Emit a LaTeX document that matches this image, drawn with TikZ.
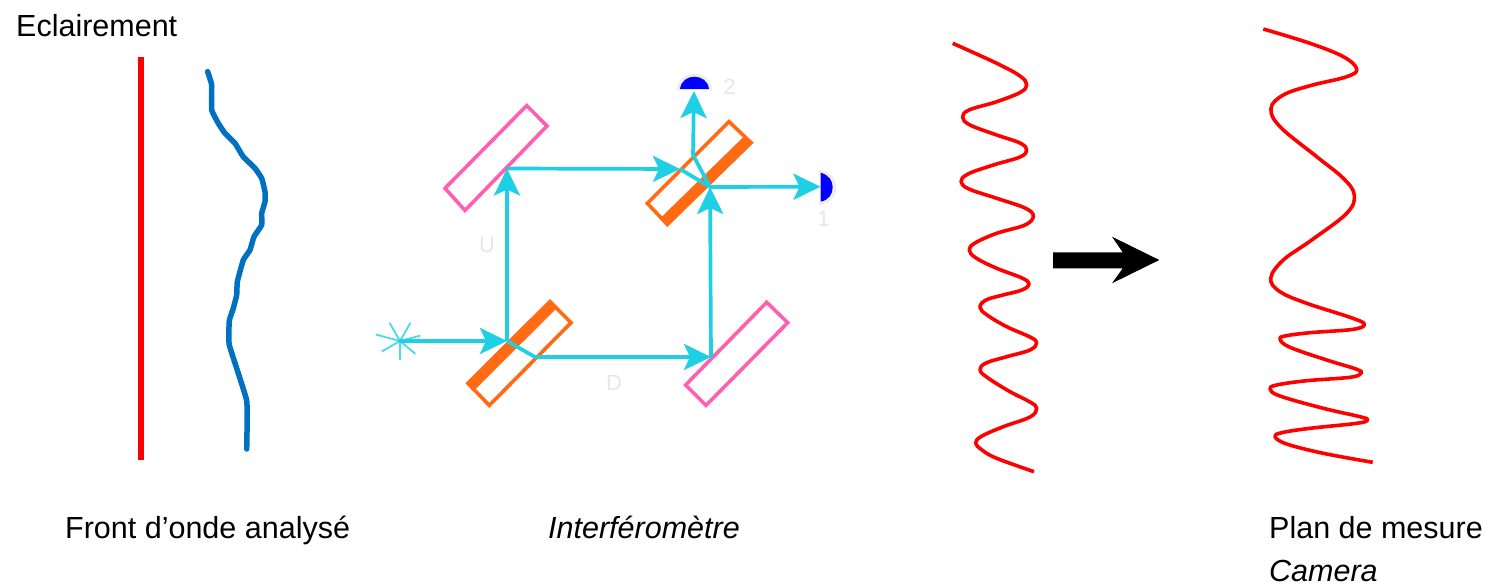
\documentclass[tikz,border=0pt]{standalone}
\usepackage{fontspec}
\setmainfont{Liberation Sans}
\usetikzlibrary{arrows.meta,calc}
\definecolor{beam}{HTML}{1FCFE4}
\definecolor{pinkm}{HTML}{FF5FB0}
\definecolor{orangem}{HTML}{FF6A13}
\definecolor{wavefront}{HTML}{0070C0}
\definecolor{palelab}{HTML}{E6E6E6}
\definecolor{halo}{HTML}{ECECF0}
\tikzset{
  label30/.style={font=\fontsize{30.5}{36}\selectfont, anchor=base west, inner sep=0pt, text=black},
  palelabel/.style={font=\fontsize{22}{26}\selectfont, text=palelab, inner sep=0pt},
  beamline/.style={draw=beam, line width=3.7pt, line join=round},
  beamarrow/.style={beamline, -{Stealth[length=27pt,width=26pt,inset=6pt]}},
  mirrorbox/.style={draw=pinkm, line width=3.6pt, line join=miter},
  splitbox/.style={draw=orangem, line width=3.6pt, line join=miter},
  splitcoat/.style={fill=orangem, draw=none},
  wave/.style={draw=red, line width=3.6pt, line join=round},
  detector/.style={fill=blue, draw=none},
  detectorhalo/.style={draw=halo, line width=2.5pt, fill=none},
  ray/.style={draw=beam, line width=1.8pt, opacity=0.8}
}
\begin{document}
\begin{tikzpicture}[x=1pt,y=-1pt]
\useasboundingbox (0,0) rectangle (1488,587);

% texts
\node[label30] (eclairement) at (16,36) {Eclairement};
\node[label30] (front) at (65,538) {Front d’onde analysé};
\node[label30,font=\fontsize{30.5}{36}\selectfont\itshape] (interf) at (548,538) {Interféromètre};
\node[label30] (plan) at (1269,538) {Plan de mesure};
\node[label30,font=\fontsize{30.5}{36}\selectfont\itshape] (camera) at (1269,581) {Camera};

% plane wave and deformed front
\draw[red, line width=6pt] (141,57) -- (141,460);
\draw[wavefront, line width=5.5pt, line cap=round, line join=round]
  plot[smooth, tension=0.2] coordinates {(207.7,71.7) (211.7,85) (211.7,110) (218.3,123.3) (225,133.3) (235,143.3)
  (243.3,156.7) (255,168.3) (261.7,178.3) (265,191.7) (265,201.7) (261.7,213.3) (261.7,225) (254,236.7)
  (250,250) (243.3,260) (237.3,281.7) (236.7,295) (233.3,308.3) (229.3,320.7) (229.3,345) (246.7,400.7) (246.7,449)};

% mirrors
\coordinate (mtlA) at (526.7,105.6); \coordinate (mtlB) at (547,126);
\coordinate (mtlC) at (465,210.4);   \coordinate (mtlD) at (445,188.3);
\draw[mirrorbox] (mtlA) -- (mtlB) -- (mtlC) -- (mtlD) -- cycle;
\coordinate (mbrA) at (766.7,302.3); \coordinate (mbrB) at (787.7,322.7);
\coordinate (mbrC) at (706,405.4);   \coordinate (mbrD) at (685.6,385);
\draw[mirrorbox] (mbrA) -- (mbrB) -- (mbrC) -- (mbrD) -- cycle;

% beam splitters
\coordinate (strA) at (729,121.6);   \coordinate (strB) at (751,142.7);
\coordinate (strC) at (667.3,224.4); \coordinate (strD) at (647.3,203.3);
\draw[splitbox] (strA) -- (strB) -- (strC) -- (strD) -- cycle;
\fill[splitcoat] (753.3,142.7) -- (667.3,226.7) -- ($(667.3,226.7)!11pt!(645,203.3)$) -- ($(753.3,142.7)!11pt!(729,119.3)$) -- cycle;
\coordinate (sblA) at (550,301.6);   \coordinate (sblB) at (571,322.7);
\coordinate (sblC) at (489.3,405.4); \coordinate (sblD) at (468,383.3);
\draw[splitbox] (sblA) -- (sblB) -- (sblC) -- (sblD) -- cycle;
\fill[splitcoat] (550,299.3) -- (465.7,383.3) -- ($(465.7,383.3)!11pt!(489.3,407.7)$) -- ($(550,299.3)!11pt!(573.3,322.7)$) -- cycle;

% beams
\coordinate (src) at (400,341);
\coordinate (bsIn) at (507,341);
\coordinate (bsOut) at (535,357);
\coordinate (mTL) at (507,168.5);
\coordinate (bs2In) at (680,169);
\coordinate (bs2Mid) at (710,187);
\coordinate (mBR) at (711,357);
\coordinate (bs2Up) at (693,155);
\coordinate (det2pt) at (694,91);
\coordinate (det1pt) at (820.5,186.7);

\draw[beamarrow] (src) -- (bsIn);
\draw[beamarrow] (bsIn) -- (mTL);
\draw[beamarrow] (mTL) -- (bs2In);
\draw[beamline] (bsIn) -- (bsOut);
\draw[beamarrow] (bsOut) -- (mBR);
\draw[beamarrow] (mBR) -- (bs2Mid);
\draw[beamline] (bs2In) -- (bs2Mid);
\draw[beamarrow] (bs2Mid) -- (bs2Up) -- (det2pt);
\draw[beamarrow] (bs2Mid) -- (det1pt);

% light source
\foreach \ang/\len in {90/19, 150/21, 195/25, 240/21, 300/21, 345/21, 40/20}
  \draw[ray] (src) -- ++(\ang:\len);

% detectors
\draw[detectorhalo] (678,91) .. controls (679,79) and (687,75) .. (694.3,75) .. controls (702,75) and (710,79) .. (711,91);
\fill[detector] (680,89) .. controls (681,80.5) and (688,76.7) .. (694.3,76.7) .. controls (701,76.7) and (708,80.5) .. (709,89) -- cycle;
\draw[detectorhalo] (819,171) .. controls (830,173) and (835,180) .. (835,187) .. controls (835,195) and (830,202) .. (819,204);
\fill[detector] (820.7,172.7) .. controls (829,175) and (832.7,181) .. (832.7,187) .. controls (832.7,194) and (829,200) .. (820.7,201.7) -- cycle;

% faint labels
\node[palelabel] (lab2) at (729.5,87) {2};
\node[palelabel] (lab1) at (823.5,219) {1};
\node[palelabel] (labU) at (487,245) {U};
\node[palelabel] (labD) at (614,383) {D};

% waves
\draw[wave] plot[smooth, tension=0.62] coordinates {(952.7,43.3) (996.7,63.3) (1020,76) (1026.7,85) (1020,92.5) (996.7,101.7) (969,110) (962.7,117.3) (970,125) (996.7,135)
  (1020,143) (1026.7,150) (1020,157) (993.3,165) (968,174) (961,181.7) (969,189) (996.7,198.3) (1025,208) (1033.3,216) (1025,225)
  (996.7,233.3) (975,243) (969.3,250) (976,258) (996.7,268.3) (1022,278) (1029,284) (1022,290) (1003,295) (986,300) (980,307.3) (987,315) (1006.7,326.7)
  (1030,337) (1036.7,342.7) (1030,350) (1006.7,356.7) (986,363) (980,370) (988,378) (1010,391.7) (1030,402) (1036.7,408.3) (1030,417)
  (1003.3,426.7) (982,436) (975.7,442.7) (982,450) (996.7,458.3) (1034,471.7)};
\draw[wave] plot[smooth, tension=0.62] coordinates {(1263.3,29) (1310,43.3) (1343.3,56.7) (1356.7,69) (1346.7,76.7) (1310,85.7) (1283.3,95) (1271,108.3) (1280,126.7)
  (1316.7,156.7) (1343.3,178.3) (1354.3,195) (1346.7,213.3) (1311.7,240) (1283.3,260) (1270.7,278.3) (1280,291.7) (1306.7,303.3)
  (1350,317.3) (1364.3,324) (1353.3,329.3) (1310,332.7) (1285,336) (1280,339.3) (1290,347.3) (1326.7,360) (1356.7,369.3) (1361,373.3)
  (1350,377.3) (1306.7,380.7) (1276.7,385) (1270,389) (1280,396) (1323.3,408.3) (1360,416.7) (1367.7,420) (1356.7,423.3) (1310,428.3)
  (1281.7,432.7) (1275,436.7) (1286.7,444) (1323.3,453.3) (1372.7,462.3)};

% big arrow
\fill[black] (1053,252.3) -- (1122.7,252.3) -- (1112,236.7) -- (1159.3,260) -- (1112,283.3) -- (1122.7,268.3) -- (1053,268.3) -- cycle;
\end{tikzpicture}
\end{document}
